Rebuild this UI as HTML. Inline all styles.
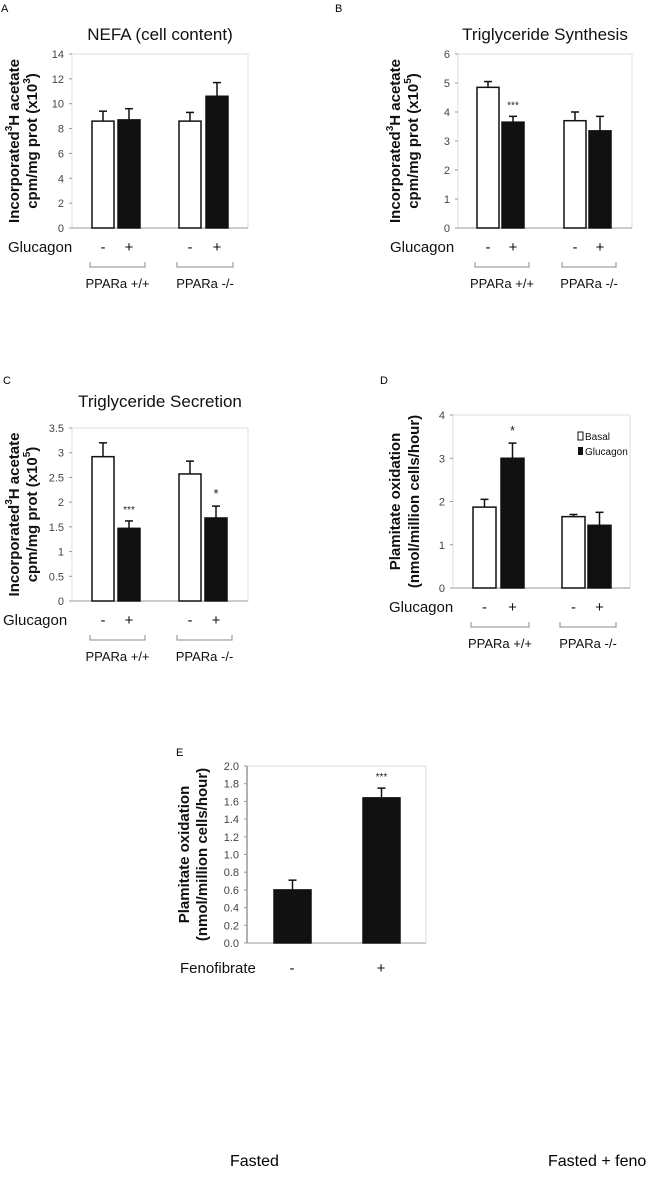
<!DOCTYPE html>
<html><head><meta charset="utf-8"><style>
body{margin:0;background:#fff;width:670px;height:1175px;overflow:hidden}
svg{font-family:"Liberation Sans",Arial,sans-serif}
</style></head><body>
<svg id="fig" width="670" height="1175" xmlns="http://www.w3.org/2000/svg">
<text x="1" y="12" font-size="11">A</text>
<text x="335" y="12" font-size="11">B</text>
<text x="3" y="384" font-size="11">C</text>
<text x="380" y="384" font-size="11">D</text>
<text x="176" y="756" font-size="11">E</text>
<text x="230" y="1166" font-size="16">Fasted</text>
<text x="548" y="1166" font-size="16">Fasted + feno</text>
</svg>
<script>
// Panel A: NEFA
const aTicks=[0,2,4,6,8,10,12,14];
const aVals=[8.6,8.7,8.6,10.6];
const aErr=[0.8,0.9,0.7,1.1];
// Panel B: TG synthesis
const bTicks=[0,1,2,3,4,5,6];
const bVals=[4.85,3.65,3.7,3.35];
const bErr=[0.2,0.2,0.3,0.5];
// Panel C: TG secretion
const cTicks=[0,0.5,1,1.5,2,2.5,3,3.5];
const cTickLabels=["0","0.5","1","1.5","2","2.5","3","3.5"];
const cVals=[2.92,1.47,2.57,1.68];
const cErr=[0.28,0.15,0.26,0.24];
// Panel D: palmitate oxidation
const dTicks=[0,1,2,3,4];
const dVals=[1.87,3.0,1.65,1.45];
const dErr=[0.18,0.35,0.05,0.3];
// Panel E: fenofibrate
const eTicks=[0,0.2,0.4,0.6,0.8,1.0,1.2,1.4,1.6,1.8,2.0];
const eVals=[0.6,1.64];
const eErr=[0.11,0.11];
const eCats=["-","+"];

const svg=document.getElementById('fig');
const NS="http://www.w3.org/2000/svg";
function mk(tag,attrs,txt){const e=document.createElementNS(NS,tag);for(const k in attrs)e.setAttribute(k,attrs[k]);if(txt!==undefined)e.textContent=txt;svg.appendChild(e);return e;}

function panel(p){
  const {id,x0,x1,yTop,yBot,ticks,labels,vals,err,barX,barW,fills,stars,title,titleY,ytitle}=p;
  const max=ticks[ticks.length-1];
  const ys=v=>yBot-(v/max)*(yBot-yTop);
  let e;
  e=mk('rect',{x:x0,y:yTop,width:x1-x0,height:yBot-yTop,fill:'none',stroke:'#ddd','stroke-width':1});
  
  
  e=mk('line',{x1:x0,y1:yBot,x2:x1,y2:yBot,stroke:'#999','stroke-width':1});
  
  
  if(p.darkY){e=mk('line',{x1:x0,y1:yTop,x2:x0,y2:yBot,stroke:'#666','stroke-width':1});
    
    }
  ticks.forEach((t,i)=>{
    e=mk('text',{x:x0-8,y:ys(t)+4,'font-size':11,'text-anchor':'end',fill:'#444'},labels?labels[i]:String(t));
    
    
    e=mk('line',{x1:x0-3,y1:ys(t),x2:x0,y2:ys(t),stroke:'#999'});
    
    
  });
  vals.forEach((v,i)=>{
    const bx=barX[i];
    const top=ys(v+err[i]);
    e=mk('line',{x1:bx+barW/2,y1:top,x2:bx+barW/2,y2:ys(v),stroke:'#111','stroke-width':1.5});
    
    
    e=mk('line',{x1:bx+barW/2-4,y1:top,x2:bx+barW/2+4,y2:top,stroke:'#111','stroke-width':1.5});
    
    
    e=mk('rect',{x:bx,y:ys(v),width:barW,height:yBot-ys(v),fill:fills[i],stroke:'#111','stroke-width':1.5});
    
    
    if(stars&&stars[i]){
      e=mk('text',{x:bx+barW/2,y:top-8,'font-size':stars[i]==='*'?13:10,'text-anchor':'middle',fill:'#222'},stars[i]);
      
      
    }
  });
  if(title){e=mk('text',{x:(x0+x1)/2,y:titleY,'font-size':17,'text-anchor':'middle',fill:'#111'},title);
    
    }
  const cy=(yTop+yBot)/2;
  ytitle.forEach((t,i)=>{
    const tx=p.ytx[i];
    e=mk('text',{x:tx,y:cy,'font-size':15,'font-weight':'bold','text-anchor':'middle',transform:`rotate(-90 ${tx} ${cy})`,fill:'#111'});
    e.innerHTML=t;
    
    
  });
  if(p.groups){
    const gy=yBot+24;
    e=mk('text',{x:p.gx,y:gy,'font-size':15,fill:'#111'},'Glucagon');
    
    
    ['-','+','-','+'].forEach((s,i)=>{
      e=mk('text',{x:barX[i]+barW/2,y:gy,'font-size':15,'text-anchor':'middle',fill:'#111'},s);
      
      
    });
    [[0,1,'PPARa +/+'],[2,3,'PPARa -/-']].forEach(([a,b,l])=>{
      const xa=barX[a]-2,xb=barX[b]+barW+5,by=yBot+39;
      e=mk('path',{d:`M${xa} ${by-5}V${by}H${xb}V${by-5}`,fill:'none',stroke:'#888'});
      
      
      e=mk('text',{x:(xa+xb)/2,y:by+21,'font-size':13,'text-anchor':'middle',fill:'#111'},l);
      
      
    });
  }
}
const W='#fff',K='#111';
const ytA=['Incorporated<tspan dy="-7" font-size="10">3</tspan><tspan dy="7">H acetate</tspan>','cpm/mg prot (x10<tspan dy="-7" font-size="10">3</tspan><tspan dy="7">)</tspan>'];
const ytB=['Incorporated<tspan dy="-7" font-size="10">3</tspan><tspan dy="7">H acetate</tspan>','cpm/mg prot (x10<tspan dy="-7" font-size="10">5</tspan><tspan dy="7">)</tspan>'];
const ytD=['Plamitate oxidation','(nmol/million cells/hour)'];
panel({id:'panel-a',x0:72,x1:248,yTop:54,yBot:228,ticks:aTicks,vals:aVals,err:aErr,barX:[92,118,179,206],barW:22,fills:[W,K,W,K],title:'NEFA (cell content)',titleY:40,ytitle:ytA,ytx:[19,37],groups:true,gx:8});
panel({id:'panel-b',x0:458,x1:632,yTop:54,yBot:228,ticks:bTicks,vals:bVals,err:bErr,barX:[477,502,564,589],barW:22,fills:[W,K,W,K],stars:[null,'***',null,null],title:'Triglyceride Synthesis',titleY:40,ytitle:ytB,ytx:[400,418],groups:true,gx:390});
panel({id:'panel-c',x0:72,x1:248,yTop:428,yBot:601,ticks:cTicks,labels:cTickLabels,vals:cVals,err:cErr,barX:[92,118,179,205],barW:22,fills:[W,K,W,K],stars:[null,'***',null,'*'],title:'Triglyceride Secretion',titleY:407,ytitle:ytB,ytx:[19,37],groups:true,gx:3});
panel({id:'panel-d',x0:453,x1:630,yTop:415,yBot:588,ticks:dTicks,vals:dVals,err:dErr,barX:[473,501,562,588],barW:23,fills:[W,K,W,K],stars:[null,'*',null,null],ytitle:ytD,ytx:[400,419],groups:true,gx:389});
panel({id:'panel-e',x0:247,x1:426,yTop:766,yBot:943,ticks:eTicks,labels:eTicks.map(t=>t.toFixed(1)),vals:eVals,err:eErr,barX:[274,363],barW:37,fills:[K,K],stars:[null,'***'],ytitle:ytD,ytx:[189,207],darkY:true});
// legend D
let e;
e=mk('rect',{x:578,y:432,width:5,height:8,fill:'#fff',stroke:'#111'});


e=mk('text',{x:585,y:440,'font-size':10,fill:'#111'},'Basal');


e=mk('rect',{x:578,y:447,width:5,height:8,fill:'#111'});


e=mk('text',{x:585,y:455,'font-size':10,fill:'#111'},'Glucagon');


// E categories
e=mk('text',{x:180,y:973,'font-size':15,fill:'#111'},'Fenofibrate');


eCats.forEach((c,i)=>{
  const el=mk('text',{x:[292,381][i],y:973,'font-size':15,'text-anchor':'middle',fill:'#111'},c);
  
  
});
</script>
</body></html>
